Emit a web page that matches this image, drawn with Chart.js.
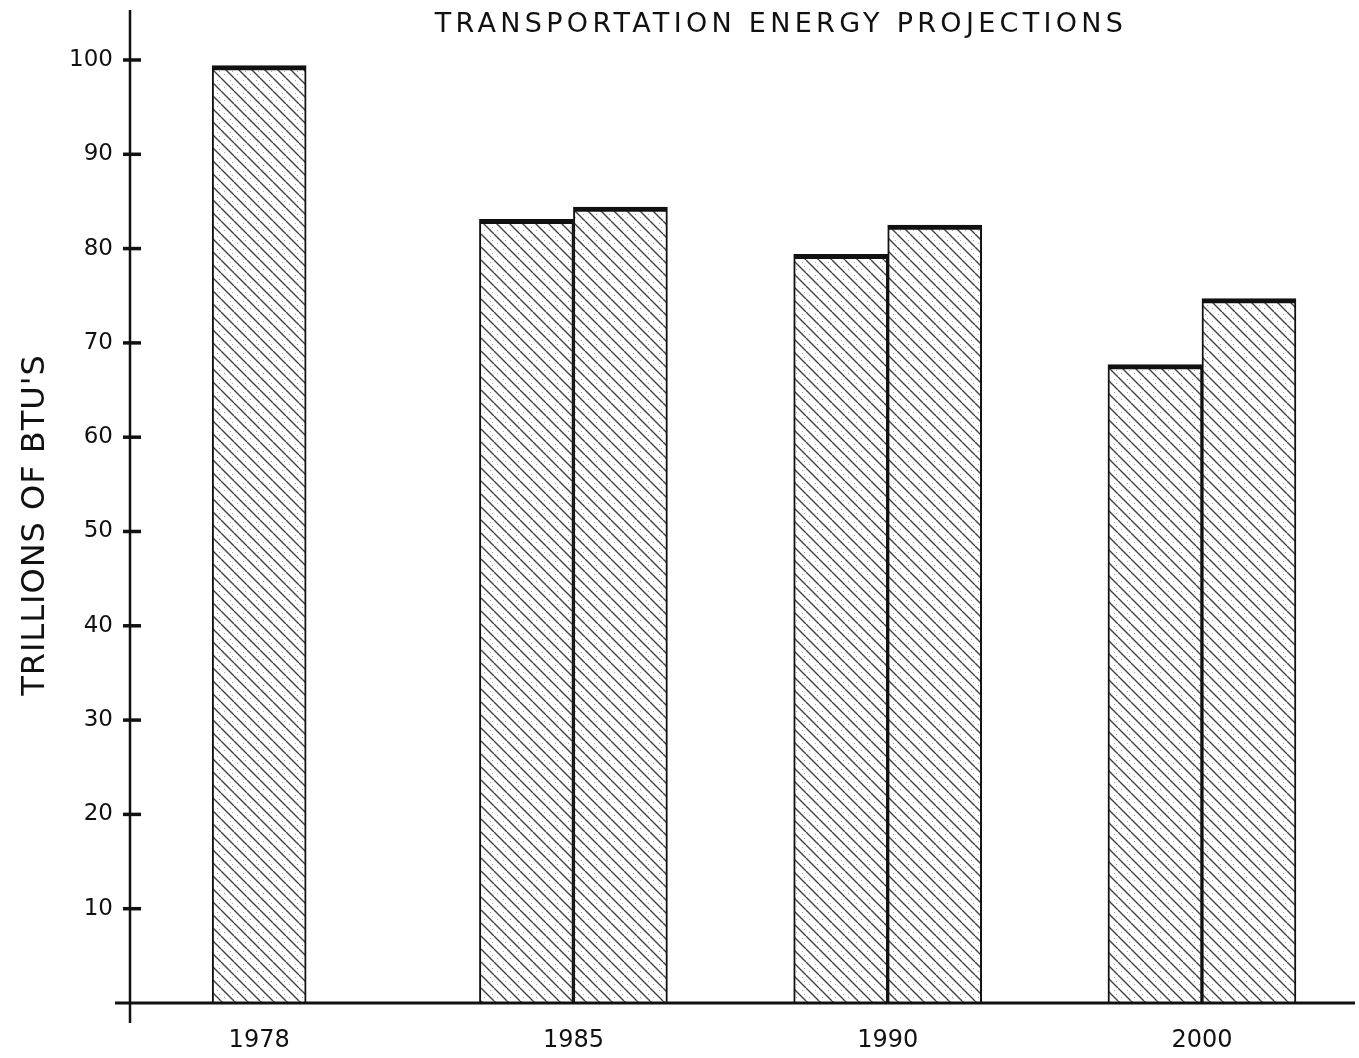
<!DOCTYPE html>
<html>
<head>
<meta charset="utf-8">
<script src="https://cdn.jsdelivr.net/npm/chart.js@4.4.1/dist/chart.umd.min.js"></script>
<style>
  html, body { margin: 0; padding: 0; background: #ffffff; }
  #wrap { width: 1359px; height: 1058px; }
</style>
</head>
<body>
<div id="wrap"><canvas id="c" width="1359" height="1058"></canvas></div>
<script>
// ---- data ----
const chartTitle = "TRANSPORTATION ENERGY PROJECTIONS";
const yAxisTitle = "TRILLIONS OF BTU'S";
const categories = ["1978", "1985", "1990", "2000"];
const seriesA = [99.4, 83.1, 79.4, 67.7];
const seriesB = [null, 84.4, 82.5, 74.7];
const yTickValues = [10, 20, 30, 40, 50, 60, 70, 80, 90, 100];

// ---- hatch pattern ----
function makePattern() {
  const s = 13;
  const pc = document.createElement('canvas');
  pc.width = s; pc.height = s;
  const p = pc.getContext('2d');
  p.fillStyle = '#ffffff';
  p.fillRect(0, 0, s, s);
  p.strokeStyle = 'rgba(20,20,20,0.8)';
  p.lineWidth = 1.4;
  for (const k of [-s, 0, s]) {
    p.beginPath();
    p.moveTo(k, 0);
    p.lineTo(k + s, s);
    p.stroke();
  }
  p.fillStyle = 'rgba(0,0,0,0.35)';
  p.fillRect(9, 2, 1, 1);
  p.fillRect(3, 9, 1, 1);
  p.fillRect(11, 6, 1, 1);
  return document.getElementById('c').getContext('2d').createPattern(pc, 'repeat');
}
const hatch = makePattern();

const axesPlugin = {
  id: 'handAxes',
  afterDraw(chart) {
    const ctx = chart.ctx;
    const a = chart.chartArea;
    const ys = chart.scales.y;
    ctx.save();
    ctx.strokeStyle = '#111';
    ctx.lineCap = 'butt';
    // x axis
    ctx.lineWidth = 3;
    ctx.beginPath();
    ctx.moveTo(a.left - 15, a.bottom);
    ctx.lineTo(a.right, a.bottom);
    ctx.stroke();
    // y axis
    ctx.lineWidth = 2.5;
    ctx.beginPath();
    ctx.moveTo(a.left, a.top);
    ctx.lineTo(a.left, a.bottom + 20);
    ctx.stroke();
    // y ticks
    ctx.lineWidth = 3.5;
    yTickValues.forEach(v => {
      const py = ys.getPixelForValue(v);
      ctx.beginPath();
      ctx.moveTo(a.left - 7, py);
      ctx.lineTo(a.left + 11, py);
      ctx.stroke();
    });
    // chart title
    ctx.fillStyle = '#111';
    ctx.font = '27px "DejaVu Sans"';
    ctx.letterSpacing = '4.3px';
    ctx.textAlign = 'center';
    ctx.textBaseline = 'middle';
    ctx.fillText(chartTitle, 781, 25);
    // y axis title
    ctx.letterSpacing = '1px';
    ctx.font = '32px "DejaVu Sans"';
    ctx.translate(36, 525);
    ctx.rotate(-Math.PI / 2);
    ctx.fillText(yAxisTitle, 0, 0);
    ctx.restore();
  }
};

new Chart(document.getElementById('c'), {
  type: 'bar',
  data: {
    labels: categories,
    datasets: [
      {
        label: 'A',
        data: seriesA,
        backgroundColor: hatch,
        borderColor: '#111',
        borderWidth: { left: 2, right: 2, top: 5, bottom: 0 },
        borderSkipped: false,
        barThickness: 94,
        skipNull: true
      },
      {
        label: 'B',
        data: seriesB,
        backgroundColor: hatch,
        borderColor: '#111',
        borderWidth: { left: 2, right: 2, top: 5, bottom: 0 },
        borderSkipped: false,
        barThickness: 94,
        skipNull: true
      }
    ]
  },
  options: {
    responsive: false,
    animation: false,
    layout: { padding: { top: 10, right: 4, left: 0, bottom: 0 } },
    plugins: {
      legend: { display: false },
      tooltip: { enabled: false },
      title: { display: false }
    },
    scales: {
      x: {
        type: 'category',
        grid: { display: false, drawTicks: false },
        border: { display: false },
        ticks: {
          color: '#111',
          padding: 23,
          font: { family: 'DejaVu Sans', size: 24 },
          maxRotation: 0
        },
        afterBuildTicks(s) { s._startValue = -0.411; s._valueRange = 3.898; },
        afterFit(s) { s.height = 55; s.paddingLeft = 0; s.paddingRight = 0; }
      },
      y: {
        min: 0,
        max: 105.3,
        grid: { display: false, drawTicks: false },
        border: { display: false },
        ticks: {
          stepSize: 10,
          color: '#111',
          padding: 17,
          font: { family: 'DejaVu Sans', size: 23 },
          callback: (v) => (v > 0 && v % 10 === 0) ? String(v) : ''
        },
        title: { display: false },
        afterFit(s) { s.width = 130; s.paddingTop = 0; s.paddingBottom = 0; }
      }
    }
  },
  plugins: [axesPlugin]
});
</script>
</body>
</html>
